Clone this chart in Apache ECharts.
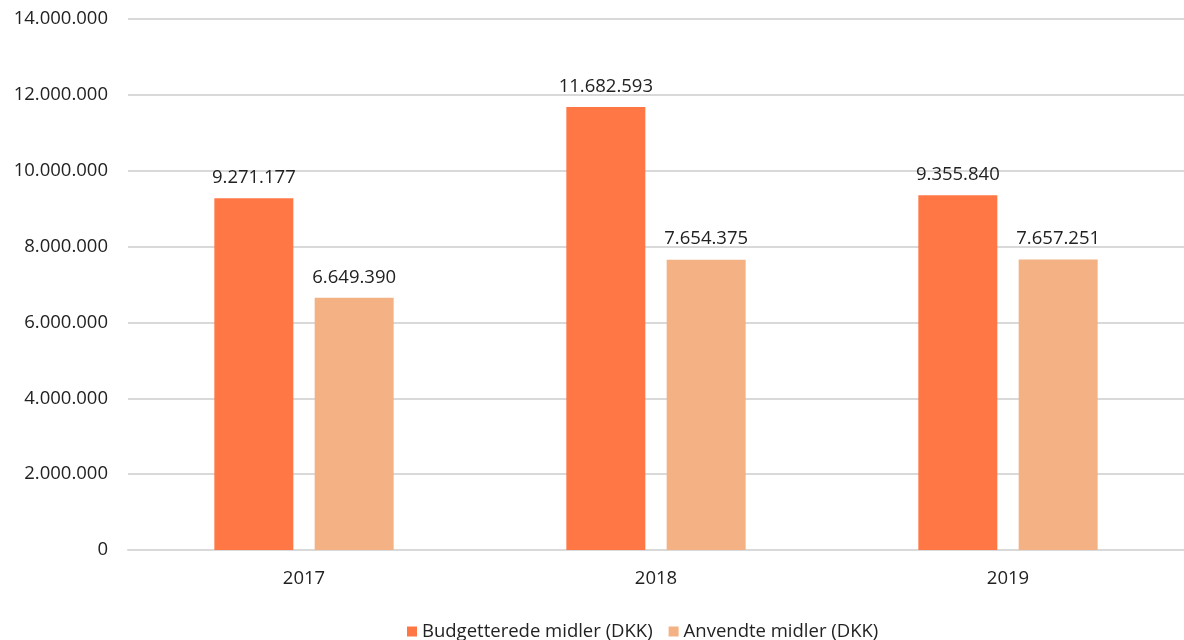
<!DOCTYPE html>
<html>
<head>
<meta charset="utf-8">
<script src="https://cdn.jsdelivr.net/npm/echarts@6/dist/echarts.min.js"></script>
<style>
  html, body { margin: 0; padding: 0; background: #fff; }
  #chart { width: 1184px; height: 640px; }
</style>
</head>
<body>
<div id="chart"></div>
<script>
const years = ['2017', '2018', '2019']
const budgetted = [9271177, 11682593, 9355840]
const spent = [6649390, 7654375, 7657251]
const seriesNames = ['Budgetterede midler (DKK)', 'Anvendte midler (DKK)']

// Danish style thousands separator
const fmt = v => String(v).replace(/\B(?=(\d{3})+(?!\d))/g, '.')

const font = "'Open Sans', 'Noto Sans', sans-serif"
const fs = 18.5
const chart = echarts.init(document.getElementById('chart'))

chart.setOption({
  animation: false,
  textStyle: { fontFamily: font },
  grid: { left: 128, right: 0, top: 19, bottom: 90, outerBoundsMode: 'none' },
  legend: {
    top: 617,
    left: 402,
    itemWidth: 10,
    itemHeight: 10,
    itemGap: 16,
    icon: 'rect',
    textStyle: { fontSize: fs, color: '#222', fontFamily: font },
    data: seriesNames
  },
  xAxis: {
    type: 'category',
    data: years,
    axisTick: { show: false },
    axisLine: { lineStyle: { color: '#d9d9d9', width: 2 } },
    axisLabel: { fontSize: fs, color: '#222', margin: 19 }
  },
  yAxis: {
    type: 'value',
    min: 0,
    max: 14000000,
    interval: 2000000,
    axisLabel: { fontSize: fs, color: '#222', margin: 20, formatter: fmt },
    splitLine: { lineStyle: { color: '#d9d9d9', width: 2 } }
  },
  series: [
    {
      name: seriesNames[0],
      type: 'bar',
      data: budgetted,
      barWidth: 79,
      barGap: '27%',
      itemStyle: { color: '#ff7744' },
      label: { show: true, position: 'top', distance: 11, fontSize: fs, color: '#222', formatter: p => fmt(p.value) }
    },
    {
      name: seriesNames[1],
      type: 'bar',
      data: spent,
      barWidth: 79,
      itemStyle: { color: '#f4b183' },
      label: { show: true, position: 'top', distance: 11, fontSize: fs, color: '#222', formatter: p => fmt(p.value) }
    }
  ]
})
</script>
</body>
</html>
